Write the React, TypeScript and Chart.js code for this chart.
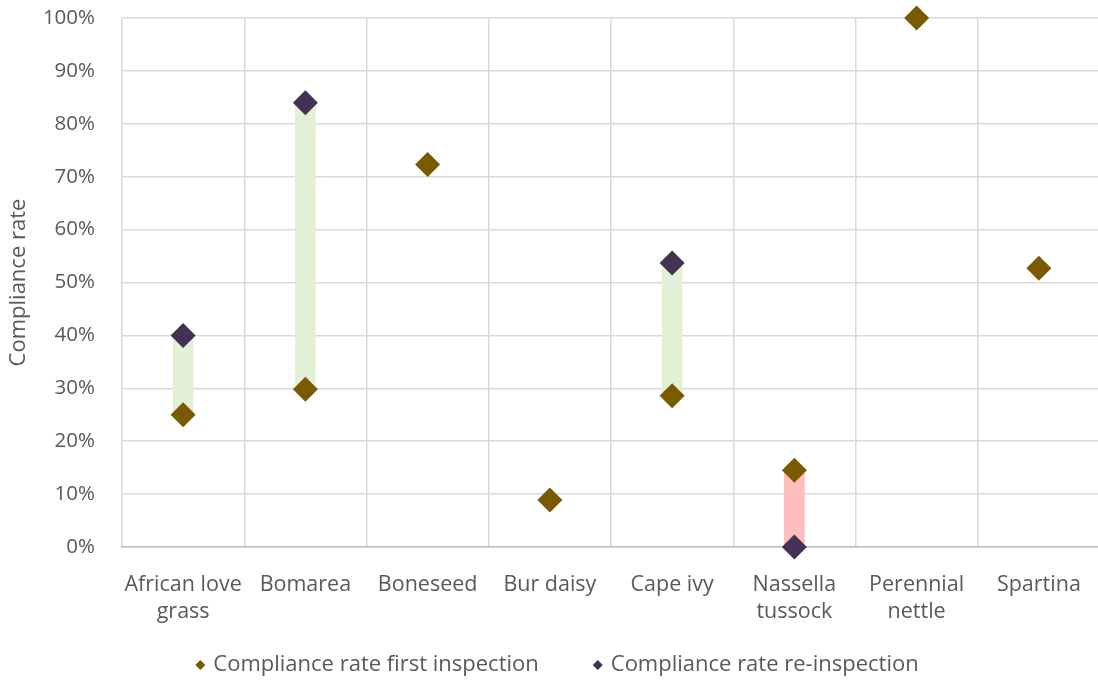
import { useEffect, useRef } from "react";
import { Chart, registerables } from "chart.js";

Chart.register(...registerables);

// Species and compliance rates (%)
const categories: (string | string[])[] = [
  ["African love", "grass"],
  "Bomarea",
  "Boneseed",
  "Bur daisy",
  "Cape ivy",
  ["Nassella", "tussock"],
  ["Perennial", "nettle"],
  "Spartina",
];
const firstInspection: number[] = [25, 29.8, 72.3, 8.9, 28.6, 14.5, 100, 52.7];
const reInspection: (number | null)[] = [40, 84, null, null, 53.7, 0, null, null];
const yTickValues: number[] = [0, 10, 20, 30, 40, 50, 60, 70, 80, 90, 100];
const seriesNames: string[] = ["Compliance rate first inspection", "Compliance rate re-inspection"];

const FONT = "'Open Sans', 'Noto Sans', sans-serif";
const TEXT = "#595959";
const GRID = "#D9D9D9";
const FIRST_COLOR = "#7A5A00";
const RE_COLOR = "#433254";
const UP_COLOR = "#E2F0D5";
const DOWN_COLOR = "#FFBDBD";

function diamond(ctx: CanvasRenderingContext2D, x: number, y: number, r: number, color: string) {
  ctx.beginPath();
  ctx.moveTo(x, y - r);
  ctx.lineTo(x + r, y);
  ctx.lineTo(x, y + r);
  ctx.lineTo(x - r, y);
  ctx.closePath();
  ctx.fillStyle = color;
  ctx.fill();
}

// Rotated axis title centred on the plot area, plus the legend row underneath
const annotationsPlugin = {
  id: "annotations",
  afterDraw(chart: Chart) {
    const ctx = chart.ctx;
    const area = chart.chartArea;
    ctx.save();
    ctx.translate(19, (area.top + area.bottom) / 2);
    ctx.rotate(-Math.PI / 2);
    ctx.font = `22px ${FONT}`;
    ctx.fillStyle = TEXT;
    ctx.textAlign = "center";
    ctx.textBaseline = "middle";
    ctx.fillText("Compliance rate", 0, 0);
    ctx.restore();

    ctx.save();
    ctx.font = `22px ${FONT}`;
    ctx.textBaseline = "middle";
    ctx.textAlign = "left";
    const colors = [FIRST_COLOR, RE_COLOR];
    const markerToText = 13;
    const itemGap = 59;
    const widths = seriesNames.map((s) => ctx.measureText(s).width);
    const total = 5 + widths.reduce((a, w) => a + markerToText + w, 0) + itemGap;
    let x = 557 - total / 2 + 5;
    const y = 665;
    seriesNames.forEach((name, i) => {
      diamond(ctx, x, y, 5, colors[i]);
      ctx.fillStyle = TEXT;
      ctx.fillText(name, x + markerToText, y);
      x += markerToText + widths[i] + itemGap;
    });
    ctx.restore();
  },
};

export default function App() {
  const canvasRef = useRef<HTMLCanvasElement | null>(null);

  useEffect(() => {
    if (!canvasRef.current) return;
    const ranges = categories.map((_, i) =>
      reInspection[i] == null ? null : [firstInspection[i], reInspection[i] as number]
    );
    const rangeColors = categories.map((_, i) =>
      reInspection[i] != null && (reInspection[i] as number) < firstInspection[i]
        ? DOWN_COLOR
        : UP_COLOR
    );

    const chart = new Chart(canvasRef.current, {
      type: "bar",
      data: {
        labels: categories,
        datasets: [
          {
            type: "bar",
            label: "Change",
            data: ranges as any,
            backgroundColor: rangeColors,
            barThickness: 20,
            order: 3,
          },
          {
            type: "line",
            label: seriesNames[0],
            data: firstInspection,
            showLine: false,
            pointStyle: "rectRot",
            pointRadius: 12.5,
            pointBackgroundColor: FIRST_COLOR,
            pointBorderWidth: 0,
            backgroundColor: FIRST_COLOR,
            borderColor: FIRST_COLOR,
            clip: false as any,
            order: 1,
          },
          {
            type: "line",
            label: seriesNames[1],
            data: reInspection,
            showLine: false,
            pointStyle: "rectRot",
            pointRadius: 12.5,
            pointBackgroundColor: RE_COLOR,
            pointBorderWidth: 0,
            backgroundColor: RE_COLOR,
            borderColor: RE_COLOR,
            clip: false as any,
            order: 2,
          },
        ],
      },
      options: {
        responsive: false,
        animation: false,
        layout: { autoPadding: false, padding: { top: 18, left: 0, right: 0, bottom: 41 } },
        scales: {
          x: {
            offset: true,
            grid: { offset: true, color: GRID, lineWidth: 1.5, drawTicks: false },
            border: { color: "#BFBFBF", width: 1.5 },
            ticks: {
              color: TEXT,
              font: { family: FONT, size: 21.5, lineHeight: 1.26 },
              padding: 24,
              maxRotation: 0,
              autoSkip: false,
            },
            afterFit: (scale: any) => {
              scale.height = 96;
              scale.paddingLeft = 0;
              scale.paddingRight = 0;
            },
          },
          y: {
            min: 0,
            max: 100,
            afterBuildTicks: (scale: any) => {
              scale.ticks = yTickValues.map((v) => ({ value: v }));
            },
            grid: { color: GRID, lineWidth: 1.5, drawTicks: false },
            border: { display: false },
            ticks: {
              color: TEXT,
              font: { family: FONT, size: 20.5 },
              padding: 27,
              callback: (v: any) => `${v}%`,
            },
            afterFit: (scale: any) => {
              scale.width = 122;
              scale.paddingTop = 0;
              scale.paddingBottom = 0;
            },
          },
        },
        plugins: {
          legend: { display: false },
          tooltip: { enabled: false },
        },
      },
      plugins: [annotationsPlugin],
    });
    return () => chart.destroy();
  }, []);

  return (
    <div
      style={{
        position: "fixed",
        left: 0,
        top: 0,
        width: 1098,
        height: 684,
        overflow: "hidden",
        background: "#fff",
      }}
    >
      <canvas ref={canvasRef} width={1100} height={684} />
    </div>
  );
}
